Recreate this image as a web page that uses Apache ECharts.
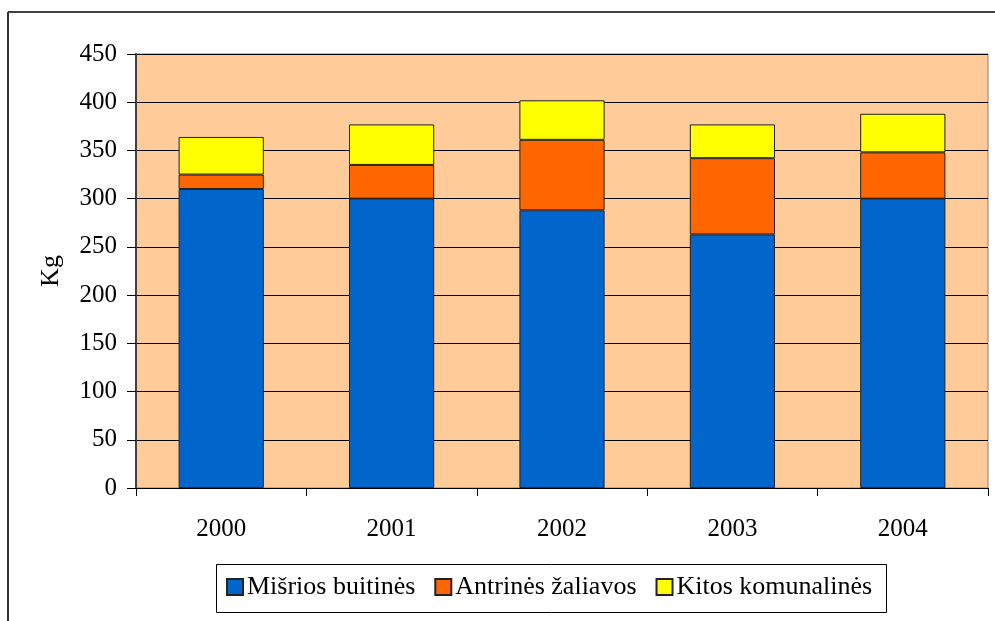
<!DOCTYPE html>
<html>
<head>
<meta charset="utf-8">
<script src="https://cdn.jsdelivr.net/npm/echarts@6/dist/echarts.min.js"></script>
<style>
  html, body { margin: 0; padding: 0; background: #fff; }
  #chart { width: 995px; height: 621px; }
</style>
</head>
<body>
<div id="chart"></div>
<script>
// metai
const years = ['2000', '2001', '2002', '2003', '2004']
// kg vienam gyventojui
const misrios = [310, 300, 288, 263, 300]
const antrines = [15, 35, 73, 79, 48]
const kitos = [39, 42, 41, 35, 40]
const seriesNames = ['Mišrios buitinės', 'Antrinės žaliavos', 'Kitos komunalinės']

const font = 'Liberation Serif, Times New Roman, serif'
const colorList = ['#0066CC', '#FF6600', '#FFFF00']

const chart = echarts.init(document.getElementById('chart'))

const series = [misrios, antrines, kitos].map((vals, index) => ({
  name: seriesNames[index],
  type: 'bar',
  stack: 'total',
  barCategoryGap: '50%',
  itemStyle: {
    color: colorList[index],
    borderColor: '#222',
    borderWidth: 1
  },
  data: vals
}))

const option = {
  backgroundColor: '#fff',
  animation: false,
  textStyle: { fontFamily: font },
  grid: {
    left: 136,
    right: 7,
    top: 54,
    bottom: 133,
    show: true,
    backgroundColor: '#FFCC99',
    borderColor: '#808080',
    borderWidth: 1
  },
  legend: {
    left: 226,
    top: 574,
    padding: 0,
    itemGap: 19,
    itemWidth: 16,
    itemHeight: 16,
    icon: 'rect',
    textStyle: { fontFamily: font, fontSize: 26, color: '#000', padding: [0, 0, 0, -1] },
    data: seriesNames
  },
  xAxis: {
    type: 'category',
    data: years,
    axisLine: { lineStyle: { color: '#000', width: 1 } },
    axisTick: { show: true, length: 8, lineStyle: { color: '#000' } },
    axisLabel: { color: '#000', fontSize: 25, fontFamily: font, margin: 29 }
  },
  yAxis: {
    type: 'value',
    min: 0,
    max: 450,
    interval: 50,
    name: 'Kg',
    nameLocation: 'middle',
    nameRotate: 90,
    nameGap: 72,
    nameTextStyle: { color: '#000', fontSize: 26, fontFamily: font },
    axisLine: { show: true, lineStyle: { color: '#404040', width: 2 } },
    axisTick: { show: true, length: 9, lineStyle: { color: '#000' } },
    axisLabel: { color: '#000', fontSize: 25, fontFamily: font, margin: 19 },
    splitLine: { show: true, lineStyle: { color: '#000', width: 1 } }
  },
  graphic: [
    { type: 'line', shape: { x1: 8, y1: 12, x2: 995, y2: 12 }, style: { stroke: '#000', lineWidth: 1.5 } },
    { type: 'line', shape: { x1: 8, y1: 12, x2: 8, y2: 621 }, style: { stroke: '#333', lineWidth: 2 } },
    { type: 'rect', shape: { x: 216.5, y: 564.5, width: 670, height: 48 }, style: { fill: 'none', stroke: '#000', lineWidth: 1 } }
  ],
  series: series
}

chart.setOption(option)
</script>
</body>
</html>
